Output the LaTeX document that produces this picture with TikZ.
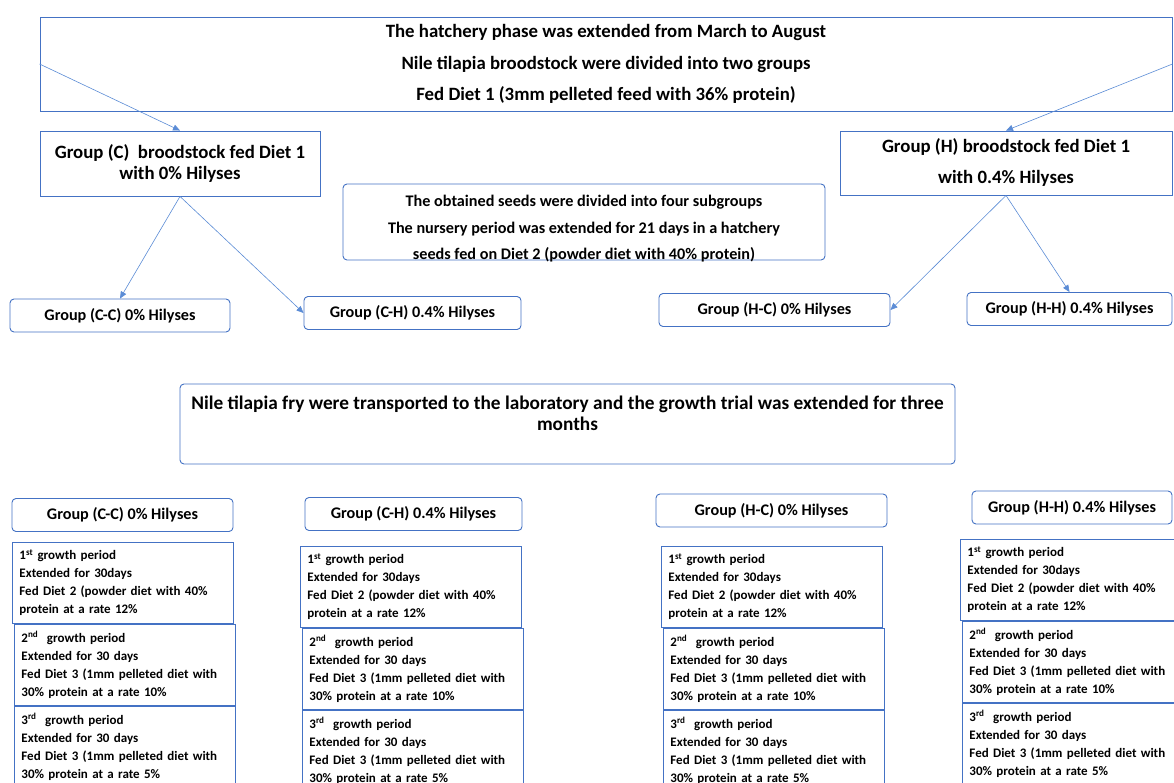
\documentclass[tikz,border=0pt]{standalone}
\usepackage{fontspec}
\setmainfont{Carlito}
\usetikzlibrary{arrows.meta,positioning}
\definecolor{boxblue}{HTML}{4472C4}
\definecolor{linkblue}{HTML}{5B8CD6}
\tikzset{
    box/.style={draw=boxblue, line width=0.9pt, inner sep=0pt, align=center, fill=white},
    roundbox/.style={box, rounded corners=4pt},
    link/.style={draw=linkblue, line width=0.6pt, -{Triangle[length=7pt,width=6pt]}},
    grouphdr/.style={roundbox, minimum height=33pt, font=\fontsize{16.2}{19}\selectfont\bfseries},
    periodbox/.style={box, minimum height=81pt, minimum width=221pt, text width=207pt,
        inner xsep=7pt, align=left, font=\fontsize{13}{18}\selectfont\bfseries},
}

\begin{document}
\begin{tikzpicture}[x=1pt,y=-1pt]
    \clip (0,0) rectangle (1174,783);
    \fill[white] (0,0) rectangle (1174,783);
    % hatchery phase
    \node[box, minimum width=1132pt, minimum height=94pt, font=\fontsize{18.8}{31.5}\selectfont\bfseries] (hatch) at (606,64)
        {The hatchery phase was extended from March to August\\Nile tilapia broodstock were divided into two groups\\Fed Diet 1 (3mm pelleted feed with 36\% protein)};
    \node[box, minimum width=280pt, minimum height=65pt, font=\fontsize{18.8}{20.5}\selectfont\bfseries] (grpC) at (180,163.5)
        {Group (C)\ \ broodstock fed Diet 1\\with 0\% Hilyses};
    \node[box, minimum width=332pt, minimum height=64pt, font=\fontsize{18.8}{31}\selectfont\bfseries] (grpH) at (1006,163)
        {Group (H) broodstock fed Diet 1\\with 0.4\% Hilyses};
    \node[roundbox, minimum width=482pt, minimum height=76pt,
        label={[yshift=-7pt, align=center, font=\fontsize{16.2}{26.5}\selectfont\bfseries]center:The obtained seeds were divided into four subgroups\\The nursery period was extended for 21 days in a hatchery\\seeds fed on Diet 2 (powder diet with 40\% protein)}]
        (seeds) at (584,222) {};
    % nursery subgroups
    \node[grouphdr, minimum width=220pt] (grpCC) at (120,315.5) {Group (C-C) 0\% Hilyses};
    \node[grouphdr, minimum width=217pt] (grpCH) at (412.5,313) {Group (C-H) 0.4\% Hilyses};
    \node[grouphdr, minimum width=231pt] (grpHC) at (774.5,310) {Group (H-C) 0\% Hilyses};
    \node[grouphdr, minimum width=205pt] (grpHH) at (1069.5,309) {Group (H-H) 0.4\% Hilyses};
    \draw[link] (hatch.west) -- (grpC.north);
    \draw[link] (hatch.east) -- (grpH.north);
    \draw[link] (grpC.south) -- (grpCC.north);
    \draw[link] (grpC.south) -- (grpCH.west);
    \draw[link] (grpH.south) -- (grpHC.east);
    \draw[link] (grpH.south) -- (grpHH.north);
    % growth trial
    \node[roundbox, minimum width=775pt, minimum height=80pt, font=\fontsize{19.3}{21.5}\selectfont\bfseries] (fry) at (567.5,424)
        {Nile tilapia fry were transported to the laboratory and the growth trial was extended for three\\months\\\mbox{}};
    \foreach \name/\hx/\hy/\hw/\px/\py/\lab in {
        cc/122.5/515/221/12/542/{(C-C) 0\%},
        ch/413.5/514/217/300/546/{(C-H) 0.4\%},
        hc/771.5/510.5/231/661/546/{(H-C) 0\%},
        hh/1072/507.5/200/960/539/{(H-H) 0.4\%}}{
        \node[grouphdr, minimum width=\hw pt] (hdr-\name) at (\hx,\hy) {Group \lab{} Hilyses};
        \node[periodbox, anchor=north west] (p1-\name) at (\px,\py)
            {1\textsuperscript{st} growth period\\Extended for 30days\\Fed Diet 2 (powder diet with 40\%\\protein at a rate 12\%};
        \node[periodbox, below=0pt of p1-\name, xshift=2pt] (p2-\name)
            {2\textsuperscript{nd}\ \ growth period\\Extended for 30 days\\Fed Diet 3 (1mm pelleted diet with\\30\% protein at a rate 10\%};
        \node[periodbox, below=0pt of p2-\name] (p3-\name)
            {3\textsuperscript{rd}\ \ growth period\\Extended for 30 days\\Fed Diet 3 (1mm pelleted diet with\\30\% protein at a rate 5\%};
    }
\end{tikzpicture}
\end{document}
